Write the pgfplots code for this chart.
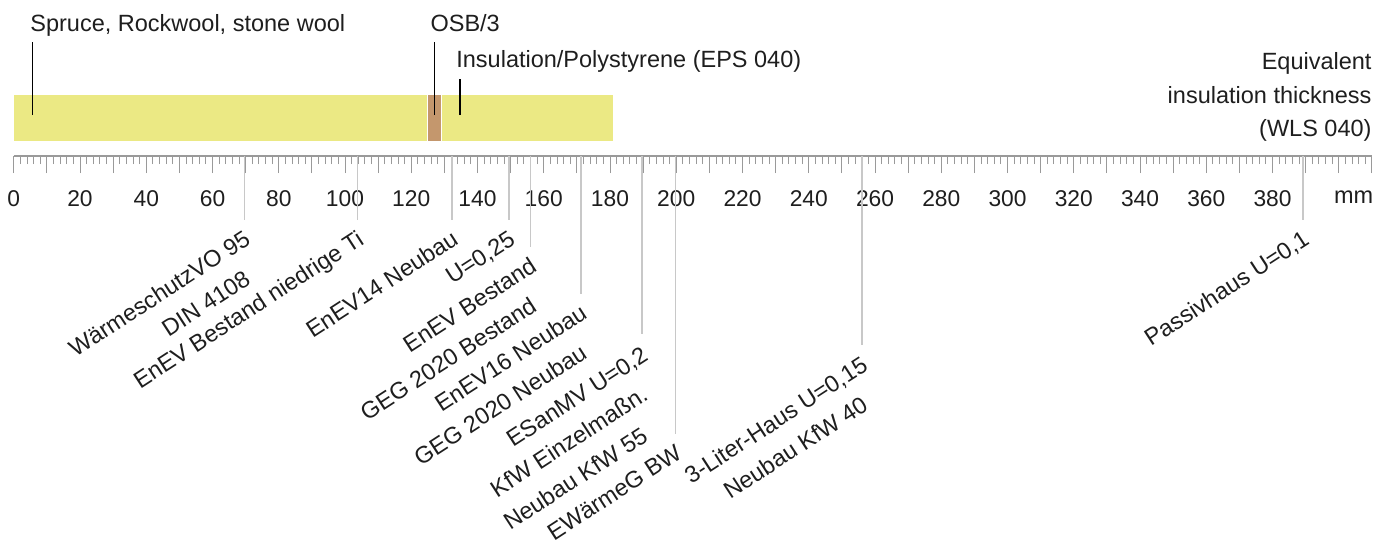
\documentclass[border=0pt]{standalone}
\usepackage{pgfplots}
\pgfplotsset{compat=1.18}
\usepackage{fontspec}
\setmainfont{Liberation Sans}
\definecolor{barY}{HTML}{EBE984}
\definecolor{barB}{HTML}{C4976D}
\definecolor{txt}{HTML}{1E1E1E}
\definecolor{refl}{HTML}{C8C8C8}
\definecolor{tickc}{HTML}{9A9A9A}
\newcommand{\lf}{\fontsize{11.75}{14}\selectfont}
\begin{document}
\begin{tikzpicture}
\begin{axis}[
  x=1.65625pt, y=0.5pt,
  xmin=0, xmax=410, ymin=0, ymax=156,
  axis x line*=bottom, axis y line=none, ytick=\empty,
  clip=false,
  tick align=outside,
  xtick={0,20,...,380},
  minor xtick={0,2,...,410},
  extra x ticks={10,30,...,390,400,410},
  extra x tick labels={},
  extra x tick style={major tick length=8.5pt},
  major tick length=8.5pt, minor tick length=4pt,
  every tick/.style={tickc, line width=0.5pt},
  axis line style={tickc, line width=0.6pt},
  /pgf/number format/assume math mode=true,
  scaled x ticks=false,
  xticklabel style={font=\fontsize{11.4}{13}\selectfont, text=txt, anchor=base, inner sep=0pt, yshift=-16.5pt},
]
% bar segments (mm)
\addplot[fill=barY, draw=white, line width=0.5pt] coordinates {(0,15) (125,15) (125,62) (0,62)} -- cycle;
\addplot[fill=barB, draw=white, line width=0.5pt] coordinates {(125,15) (129,15) (129,62) (125,62)} -- cycle;
\addplot[fill=barY, draw=white, line width=0.5pt] coordinates {(129,15) (181.2,15) (181.2,62) (129,62)} -- cycle;
% leader lines
\addplot[black, line width=0.6pt] coordinates {(5.7,41) (5.7,114)};
\addplot[black, line width=0.6pt] coordinates {(127.0,41) (127.0,114)};
\addplot[black, line width=0.6pt] coordinates {(134.7,41) (134.7,77)};
% reference lines below the ruler
\addplot[refl, line width=0.75pt] coordinates {(69.6,0) (69.6,-64)};
\addplot[refl, line width=0.75pt] coordinates {(103.8,0) (103.8,-64)};
\addplot[refl, line width=0.75pt] coordinates {(132.3,0) (132.3,-64)};
\addplot[refl, line width=0.75pt] coordinates {(149.5,0) (149.5,-64)};
\addplot[refl, line width=0.75pt] coordinates {(156.0,0) (156.0,-91)};
\addplot[refl, line width=0.75pt] coordinates {(171.2,0) (171.2,-138)};
\addplot[refl, line width=0.75pt] coordinates {(189.6,0) (189.6,-178)};
\addplot[refl, line width=0.75pt] coordinates {(199.8,0) (199.8,-278)};
\addplot[refl, line width=0.75pt] coordinates {(256.0,0) (256.0,-189)};
\addplot[refl, line width=0.75pt] coordinates {(389.2,0) (389.2,-64)};
% top labels
\node[anchor=base west, inner sep=0pt, text=txt, font=\lf] at (axis cs:4.9,125) {Spruce, Rockwool, stone wool};
\node[anchor=base west, inner sep=0pt, text=txt, font=\lf] at (axis cs:125.7,125) {OSB/3};
\node[anchor=base west, inner sep=0pt, text=txt, font=\lf] at (axis cs:133.5,89) {Insulation/Polystyrene (EPS 040)};
\node[anchor=base east, inner sep=0pt, text=txt, font=\lf] at (axis cs:410,87) {Equivalent};
\node[anchor=base east, inner sep=0pt, text=txt, font=\lf] at (axis cs:410,53) {insulation thickness};
\node[anchor=base east, inner sep=0pt, text=txt, font=\lf] at (axis cs:410,20) {(WLS 040)};
\node[anchor=base east, inner sep=0pt, text=txt, font=\lf] at (axis cs:410.5,-47) {mm};
% rotated labels
\tikzset{rl/.style={rotate=33, anchor=base east, inner sep=0pt, text=txt, font=\lf}}
\node[rl] at (axis cs:72.0,-87) {WärmeschutzVO 95};
\node[rl] at (axis cs:72.0,-127) {DIN 4108};
\node[rl] at (axis cs:106.2,-87) {EnEV Bestand niedrige Ti};
\node[rl] at (axis cs:134.7,-87) {EnEV14 Neubau};
\node[rl] at (axis cs:151.9,-87) {U=0,25};
\node[rl] at (axis cs:158.4,-114) {EnEV Bestand};
\node[rl] at (axis cs:158.4,-154) {GEG 2020 Bestand};
\node[rl] at (axis cs:173.6,-161) {EnEV16 Neubau};
\node[rl] at (axis cs:173.6,-201) {GEG 2020 Neubau};
\node[rl] at (axis cs:192.0,-203) {ESanMV U=0,2};
\node[rl] at (axis cs:192.0,-243) {KfW Einzelmaßn.};
\node[rl] at (axis cs:192.0,-284) {Neubau KfW 55};
\node[rl] at (axis cs:202.2,-301) {EWärmeG BW};
\node[rl] at (axis cs:258.4,-213) {3-Liter-Haus U=0,15};
\node[rl] at (axis cs:258.4,-253) {Neubau KfW 40};
\node[rl] at (axis cs:391.6,-87) {Passivhaus U=0,1};
\coordinate (TL) at (axis cs:-4.151,156);
\coordinate (BR) at (axis cs:416.07,-385);
\end{axis}
\pgfresetboundingbox
\path[use as bounding box] (TL) rectangle (BR);
\end{tikzpicture}
\end{document}
